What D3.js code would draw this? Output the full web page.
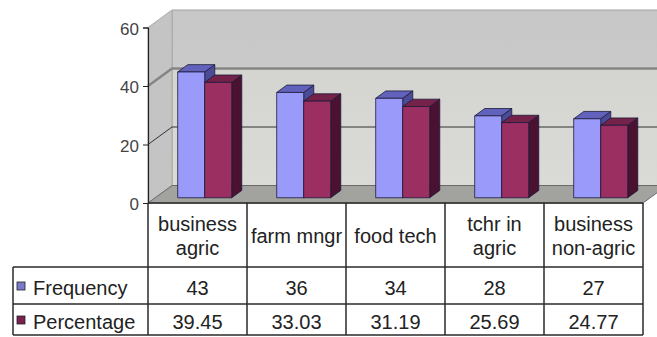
<!DOCTYPE html>
<html>
<head>
<meta charset="utf-8">
<script src="https://cdn.jsdelivr.net/npm/d3@7/dist/d3.min.js"></script>
<style>
  html, body { margin: 0; padding: 0; background: #fff; }
  svg { display: block; font-family: "Liberation Sans", Arial, sans-serif; }
</style>
</head>
<body>
<svg id="chart" width="657" height="337"></svg>
<script>
// ---- data ----
const categories = ["business\nagric", "farm mngr", "food tech", "tchr in\nagric", "business\nnon-agric"];
const seriesNames = ["Frequency", "Percentage"];
const frequency = [43, 36, 34, 28, 27];
const percentage = [39.45, 33.03, 31.19, 25.69, 24.77];
const yTicks = [0, 20, 40, 60];

// ---- layout ----
const W = 657, H = 337;
const plotL = 148, plotR = 643, baseY = 203, topY = 27.5;
const depthDX = 24, depthDY = -17.5;
const barFront = 0.3, barBack = 0.72;
const groupW = 54;

const svg = d3.select("#chart");
const defs = svg.append("defs");
defs.append("clipPath").attr("id", "clip").append("rect").attr("width", W).attr("height", H);

const y = d3.scaleLinear().domain([0, 60]).range([baseY, topY]);
const x = d3.scaleBand().domain(categories).range([plotL, plotR]);
const xs = d3.scaleBand().domain(seriesNames).range([0, groupW]);
const dpx = f => depthDX * f, dpy = f => depthDY * f;

const colors = {
  Frequency: { front: "#9a9afa", top: "#6262bc", side: "#4b4b98", key: "#7a7acc" },
  Percentage: { front: "#9b2f62", top: "#742249", side: "#4a1230", key: "#7a1f4e" }
};

const g = svg.append("g").attr("clip-path", "url(#clip)");

// gradient for back wall
const grad = defs.append("linearGradient").attr("id", "wall").attr("x1", 0).attr("y1", 0).attr("x2", 0).attr("y2", 1);
grad.append("stop").attr("offset", "0%").attr("stop-color", "#c7c7c7");
grad.append("stop").attr("offset", "32%").attr("stop-color", "#c9c9c9");
grad.append("stop").attr("offset", "34%").attr("stop-color", "#d4d4d1");
grad.append("stop").attr("offset", "100%").attr("stop-color", "#dadad6");

const pts = a => a.map(p => p.join(",")).join(" ");
// back wall
g.append("polygon")
  .attr("points", pts([[plotL + depthDX, y(60) + depthDY], [plotR + depthDX + 20, y(60) + depthDY], [plotR + depthDX + 20, y(0) + depthDY], [plotL + depthDX, y(0) + depthDY]]))
  .attr("fill", "url(#wall)").attr("stroke", "#a0a0a0").attr("stroke-width", 1);
// side wall
g.append("polygon")
  .attr("points", pts([[plotL, y(60)], [plotL + depthDX, y(60) + depthDY], [plotL + depthDX, y(0) + depthDY], [plotL, y(0)]]))
  .attr("fill", "#c4c4c4").attr("stroke", "#aaa").attr("stroke-width", 1);
// floor
g.append("polygon")
  .attr("points", pts([[plotL, y(0)], [plotL + depthDX, y(0) + depthDY], [plotR + depthDX, y(0) + depthDY], [plotR, y(0)]]))
  .attr("fill", "#a2a29e").attr("stroke", "#6a6a6a").attr("stroke-width", 1);

// gridlines
[20, 40].forEach(v => {
  const col = v === 40 ? "#858585" : "#333";
  const sw = v === 40 ? 2.5 : 1;
  g.append("polyline")
    .attr("points", pts([[plotL, y(v)], [plotL + depthDX, y(v) + depthDY], [plotR + depthDX + 20, y(v) + depthDY]]))
    .attr("fill", "none").attr("stroke", col).attr("stroke-width", sw);
});

// bars
const barData = [];
categories.forEach((c, i) => {
  seriesNames.forEach((s, j) => {
    barData.push({ c, s, v: (j === 0 ? frequency : percentage)[i] });
  });
});
const bars = g.append("g").selectAll("g.bar").data(barData).join("g").attr("class", "bar");
bars.each(function (d) {
  const b = d3.select(this);
  const x0 = x(d.c) + (x.bandwidth() - groupW) / 2 + xs(d.s) + dpx(barFront);
  const x1 = x0 + xs.bandwidth();
  const yb = y(0) + dpy(barFront);
  const yt = y(d.v) + dpy(barFront);
  const ddx = dpx(barBack - barFront), ddy = dpy(barBack - barFront);
  const col = colors[d.s];
  const st = { stroke: "#1a1a3a", "stroke-width": 0.8, "stroke-linejoin": "round" };
  const side = b.append("polygon").attr("points", pts([[x1, yt], [x1 + ddx, yt + ddy], [x1 + ddx, yb + ddy], [x1, yb]])).attr("fill", col.side);
  const top = b.append("polygon").attr("points", pts([[x0, yt], [x0 + ddx, yt + ddy], [x1 + ddx, yt + ddy], [x1, yt]])).attr("fill", col.top);
  const front = b.append("rect").attr("x", x0).attr("y", yt).attr("width", x1 - x0).attr("height", yb - yt).attr("fill", col.front);
  [side, top, front].forEach(e => Object.entries(st).forEach(([k, v]) => e.attr(k, v)));
});

// front axis
const axis = d3.axisLeft(y).tickValues(yTicks).tickSize(5).tickPadding(4).tickFormat(d3.format("d"));
const ax = svg.append("g").attr("transform", `translate(${plotL},0)`).call(axis);
ax.select(".domain").attr("stroke", "#222").attr("stroke-width", 1.2);
ax.selectAll(".tick line").attr("stroke", "#222");
ax.selectAll(".tick text").attr("font-size", 17).attr("fill", "#444").attr("dy", "0.4em")
  .attr("font-family", "Liberation Sans, Arial, sans-serif");

// ---- data table ----
const tbl = svg.append("g");
const hdrTop = baseY, hdrBot = 267, row1Bot = 304, row2Bot = 335, legL = 13;
const lineCol = "#2a2a2a", lw = 1.5;
const line = (x1, y1, x2, y2) => tbl.append("line").attr("x1", x1).attr("y1", y1).attr("x2", x2).attr("y2", y2).attr("stroke", lineCol).attr("stroke-width", lw);
x.domain().forEach(c => line(x(c), hdrTop, x(c), row2Bot));
line(plotR, hdrTop, plotR, row2Bot);
line(legL, hdrBot, plotR, hdrBot);
line(legL, row1Bot, plotR, row1Bot);
line(legL, row2Bot, plotR, row2Bot);
line(legL, hdrBot, legL, row2Bot);
line(plotL, hdrTop, plotR, hdrTop);

const fs = 20;
categories.forEach(c => {
  const lines = c.split("\n");
  const cx = x(c) + x.bandwidth() / 2;
  const mid = (hdrTop + hdrBot) / 2;
  const lh = 24;
  lines.forEach((t, k) => {
    tbl.append("text").attr("x", cx).attr("y", mid + (k - (lines.length - 1) / 2) * lh)
      .attr("dy", "0.42em").attr("text-anchor", "middle").attr("font-size", fs).attr("fill", "#222").text(t);
  });
});
const fmt = [d3.format("d"), d3.format(".2f")];
[frequency, percentage].forEach((arr, r) => {
  const cy = r === 0 ? (hdrBot + row1Bot) / 2 : (row1Bot + row2Bot) / 2;
  arr.forEach((v, i) => {
    tbl.append("text").attr("x", x(categories[i]) + x.bandwidth() / 2).attr("y", cy).attr("dy", "0.45em")
      .attr("text-anchor", "middle").attr("font-size", fs).attr("fill", "#222").text(fmt[r](v));
  });
  tbl.append("rect").attr("x", 17).attr("y", cy - 3.5).attr("width", 8).attr("height", 8)
    .attr("fill", colors[seriesNames[r]].key).attr("stroke", "#222").attr("stroke-width", 0.8);
  tbl.append("text").attr("x", 33).attr("y", cy).attr("dy", "0.45em").attr("font-size", fs).attr("fill", "#222").text(seriesNames[r]);
});
</script>
</body>
</html>
